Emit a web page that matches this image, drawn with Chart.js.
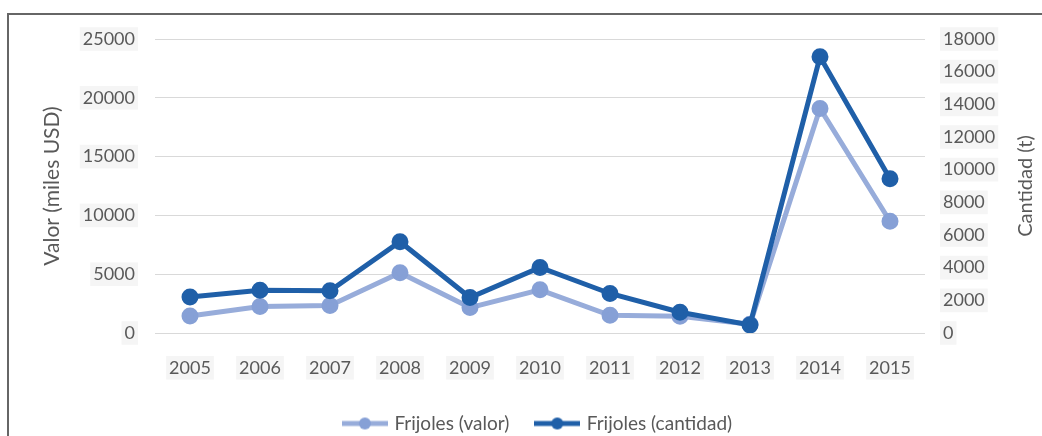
<!DOCTYPE html>
<html>
<head>
<meta charset="utf-8">
<script src="https://cdn.jsdelivr.net/npm/chart.js@4/dist/chart.umd.min.js"></script>
<style>
  html, body { margin: 0; padding: 0; background: #fff; }
  #wrap { position: relative; width: 1042px; height: 436px; overflow: hidden; }
  #frame { position: absolute; left: 7px; top: 13px; width: 1040px; height: 440px;
           border-top: 2px solid #666; border-left: 2px solid #666; box-sizing: border-box; }
  canvas { position: absolute; left: 0; top: 0; }
</style>
</head>
<body>
<div id="wrap">
  <div id="frame"></div>
  <canvas id="chart" width="1042" height="443"></canvas>
</div>
<script>
// Data
const years = ['2005', '2006', '2007', '2008', '2009', '2010', '2011', '2012', '2013', '2014', '2015'];
const valor = [1450, 2260, 2330, 5120, 2160, 3670, 1510, 1430, 740, 19090, 9500];      // miles USD
const cantidad = [2210, 2620, 2580, 5590, 2170, 4010, 2420, 1270, 490, 16910, 9440];   // t
const seriesNames = ['Frijoles (valor)', 'Frijoles (cantidad)'];
const axisTitles = ['Valor (miles USD)', 'Cantidad (t)'];

const lightBlue = '#97ACDA';
const lightMarker = '#86A0D6';
const darkBlue = '#1F5FA8';
const textColor = '#595959';
const fontFamily = 'Lato, "Open Sans", sans-serif';

// small line+dot picture for the legend
function legendIcon(lineColor, dotColor) {
    const c = document.createElement('canvas');
    c.width = 46;
    c.height = 14;
    const g = c.getContext('2d');
    g.strokeStyle = lineColor;
    g.lineWidth = 5;
    g.beginPath();
    g.moveTo(0, 7);
    g.lineTo(46, 7);
    g.stroke();
    g.fillStyle = dotColor;
    g.beginPath();
    g.arc(23, 7, 6, 0, Math.PI * 2);
    g.fill();
    return c;
}
const icons = [legendIcon(lightBlue, lightMarker), legendIcon(darkBlue, darkBlue)];

// both axis titles read bottom-to-top like the original
const axisTitlePlugin = {
    id: 'axisTitles',
    afterDraw(chart) {
        const area = chart.chartArea;
        const midY = (area.top + area.bottom) / 2;
        const ctx = chart.ctx;
        const draw = (text, x, size) => {
            ctx.save();
            ctx.translate(x, midY);
            ctx.rotate(-Math.PI / 2);
            ctx.fillStyle = textColor;
            ctx.font = size + 'px ' + fontFamily;
            ctx.textAlign = 'center';
            ctx.textBaseline = 'middle';
            ctx.fillText(text, 0, 0);
            ctx.restore();
        };
        draw(axisTitles[0], area.left - 103, 21);
        draw(axisTitles[1], area.right + 101, 20);
    }
};

const tickBackdrop = 'rgba(236,236,236,0.55)';
const plain = v => String(v);

new Chart(document.getElementById('chart').getContext('2d'), {
    type: 'line',
    data: {
        labels: years,
        datasets: [{
            label: seriesNames[0],
            data: valor,
            yAxisID: 'y',
            borderColor: lightBlue,
            backgroundColor: lightMarker,
            pointBackgroundColor: lightMarker,
            pointBorderColor: lightMarker,
            borderWidth: 5,
            pointRadius: 6,
            order: 2
        }, {
            label: seriesNames[1],
            data: cantidad,
            yAxisID: 'y1',
            borderColor: darkBlue,
            backgroundColor: darkBlue,
            pointBackgroundColor: darkBlue,
            pointBorderColor: darkBlue,
            borderWidth: 5,
            pointRadius: 6,
            order: 1
        }]
    },
    options: {
        responsive: false,
        animation: false,
        layout: { padding: { left: 37, right: 2, top: 39, bottom: 0 } },
        plugins: {
            tooltip: { enabled: false },
            legend: {
                position: 'bottom',
                labels: {
                    usePointStyle: true,
                    pointStyleWidth: 40,
                    padding: 28,
                    color: textColor,
                    font: { family: fontFamily, size: 19 },
                    generateLabels(chart) {
                        const items = Chart.defaults.plugins.legend.labels.generateLabels(chart);
                        items.sort((a, b) => a.datasetIndex - b.datasetIndex);
                        items.forEach(it => { it.pointStyle = icons[it.datasetIndex]; });
                        return items;
                    }
                }
            }
        },
        scales: {
            x: {
                offset: true,
                grid: { display: false, drawTicks: false },
                border: { display: false },
                ticks: {
                    color: textColor,
                    font: { family: fontFamily, size: 18 },
                    padding: 24,
                    maxRotation: 0,
                    showLabelBackdrop: true,
                    backdropColor: tickBackdrop,
                    backdropPadding: { left: 3, right: 3, top: 1, bottom: 1 }
                },
                afterFit(s) { s.height = 53; }
            },
            y: {
                position: 'left',
                min: 0,
                max: 25000,
                grid: { color: '#D9D9D9', lineWidth: 1, drawTicks: false },
                border: { display: false },
                ticks: {
                    stepSize: 5000,
                    callback: plain,
                    color: textColor,
                    font: { family: fontFamily, size: 18 },
                    padding: 20,
                    showLabelBackdrop: true,
                    backdropColor: tickBackdrop,
                    backdropPadding: { left: 3, right: 3, top: 1, bottom: 1 }
                },
                afterFit(s) { s.width = 118; }
            },
            y1: {
                position: 'right',
                min: 0,
                max: 18000,
                grid: { display: false, drawTicks: false },
                border: { display: false },
                ticks: {
                    stepSize: 2000,
                    callback: plain,
                    color: textColor,
                    font: { family: fontFamily, size: 18 },
                    padding: 18,
                    showLabelBackdrop: true,
                    backdropColor: tickBackdrop,
                    backdropPadding: { left: 3, right: 3, top: 1, bottom: 1 }
                },
                afterFit(s) { s.width = 115; }
            }
        }
    },
    plugins: [axisTitlePlugin]
});
</script>
</body>
</html>
